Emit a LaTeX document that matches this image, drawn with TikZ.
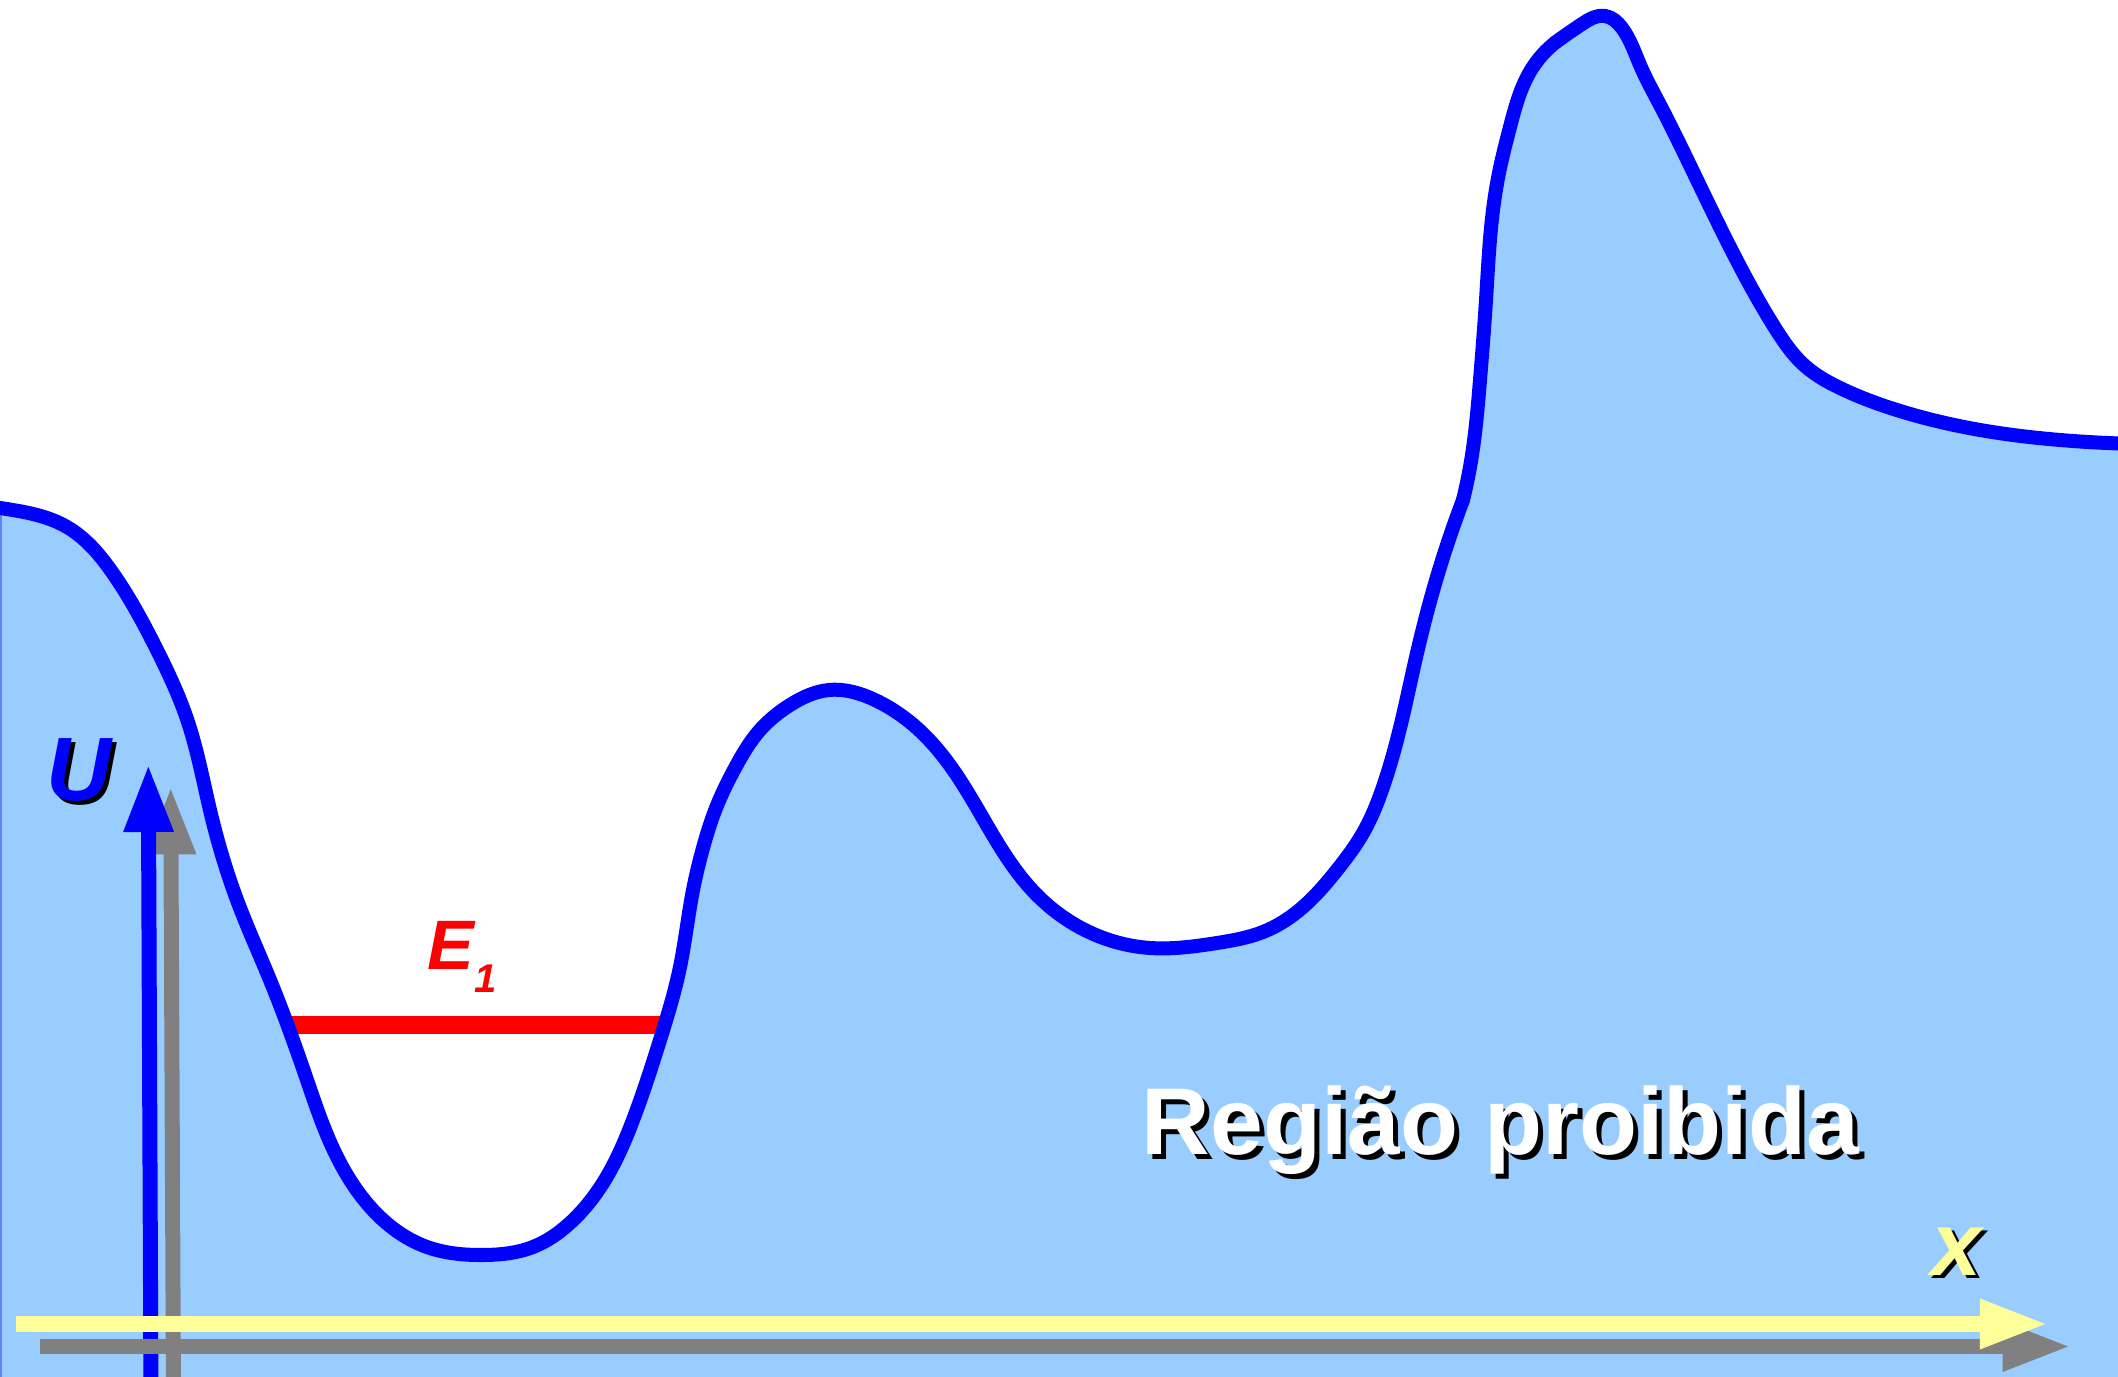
\documentclass[tikz,border=0pt]{standalone}
\usepackage{fontspec}
\setmainfont{Liberation Sans}
\usetikzlibrary{arrows.meta,hobby}
\definecolor{regionblue}{HTML}{99CCFF}
\definecolor{curveblue}{HTML}{0000FF}
\definecolor{edgeblue}{HTML}{6680FF}
\definecolor{shadowgray}{HTML}{808080}
\definecolor{axisyellow}{HTML}{FFFF99}
\definecolor{levelred}{HTML}{FF0000}
\begin{document}
\begin{tikzpicture}[x=0.01cm, y=-0.01cm,
  curve/.style={draw=curveblue, line width=0.14cm, line join=round, line cap=round},
  regionfill/.style={fill=regionblue, draw=regionblue, line width=0.6pt},
  axisarrow/.style={line width=0.15cm, -{Triangle[length=0.68cm,width=0.46cm]}},
  axislbl/.style={inner sep=0pt, anchor=base, font=\fontsize{25.6pt}{30pt}\selectfont\bfseries\itshape},
  biglbl/.style={inner sep=0pt, anchor=base west, font=\fontsize{27pt}{32pt}\selectfont\bfseries}]
\useasboundingbox (0,0) rectangle (2118,1377);
\clip (0,0) rectangle (2118,1377);
\coordinate (cstart) at (-60,499);
\coordinate (kneeA) at (1463,500);
\coordinate (kneeB) at (1556,42);
\coordinate (cend) at (2140,444);
\coordinate (floorL) at (-60,1400);
\coordinate (floorA) at (1463,1400);
\coordinate (floorB) at (1556,1400);
\coordinate (floorR) at (2140,1400);
% energy level (its ends are hidden by the curve)
\coordinate (eleft) at (285,1025);
\coordinate (eright) at (668,1025);
% forbidden region, in three pieces
\path[regionfill] (cstart)
 to[curve through={(0,508) .. (67,527) .. (112,572) .. (156,648) .. (188,722)
 .. (210,810) .. (237,900) .. (270,980) .. (307,1080) .. (325,1130) .. (350,1180)
 .. (383,1220) .. (427,1247) .. (483,1255) .. (533,1247) .. (570,1223) .. (603,1183)
 .. (633,1120) .. (660,1040) .. (680,967) .. (693,890) .. (703,848) .. (716,808)
 .. (735,768) .. (760,730) .. (790,705) .. (829,690) .. (875,700) .. (918,729)
 .. (956,774) .. (994,837) .. (1033,891) .. (1081,928) .. (1150,948) .. (1217,943)
 .. (1263,932) .. (1303,907) .. (1337,870) .. (1363,833) .. (1383,787) .. (1400,728)
 .. (1417,653) .. (1440,567)}] (kneeA) -- (floorA) -- (floorL) -- cycle;
\path[regionfill] (kneeA)
 to[curve through={(1472,455) .. (1480,380) .. (1486,300) .. (1493,210) .. (1500,168)
 .. (1510,127) .. (1531,70)}] (kneeB) -- (floorB) -- (floorA) -- cycle;
\path[regionfill] (kneeB)
 to[curve through={(1582,24) .. (1605,16) .. (1622,28) .. (1640,65) .. (1660,105)
 .. (1685,155) .. (1714,215) .. (1745,276) .. (1775,328) .. (1805,366) .. (1840,388)
 .. (1900,411) .. (1980,430) .. (2060,440)}] (cend) -- (floorR) -- (floorB) -- cycle;
\draw[edgeblue, line width=0.02cm] (0.5,508) -- (0.5,1400);
\draw[levelred, line width=0.18cm] (eleft) -- (eright);
% potential curve
\draw[curve] (cstart)
 to[curve through={(0,508) .. (67,527) .. (112,572) .. (156,648) .. (188,722)
 .. (210,810) .. (237,900) .. (270,980) .. (307,1080) .. (325,1130) .. (350,1180)
 .. (383,1220) .. (427,1247) .. (483,1255) .. (533,1247) .. (570,1223) .. (603,1183)
 .. (633,1120) .. (660,1040) .. (680,967) .. (693,890) .. (703,848) .. (716,808)
 .. (735,768) .. (760,730) .. (790,705) .. (829,690) .. (875,700) .. (918,729)
 .. (956,774) .. (994,837) .. (1033,891) .. (1081,928) .. (1150,948) .. (1217,943)
 .. (1263,932) .. (1303,907) .. (1337,870) .. (1363,833) .. (1383,787) .. (1400,728)
 .. (1417,653) .. (1440,567)}] (kneeA);
\draw[curve] (kneeA)
 to[curve through={(1472,455) .. (1480,380) .. (1486,300) .. (1493,210) .. (1500,168)
 .. (1510,127) .. (1531,70)}] (kneeB);
\draw[curve] (kneeB)
 to[curve through={(1582,24) .. (1605,16) .. (1622,28) .. (1640,65) .. (1660,105)
 .. (1685,155) .. (1714,215) .. (1745,276) .. (1775,328) .. (1805,366) .. (1840,388)
 .. (1900,411) .. (1980,430) .. (2060,440)}] (cend);
% U axis with shadow
\coordinate (ushadowfoot) at (173.5,1400);
\coordinate (ushadowtip) at (170.7,786.4);
\coordinate (ufoot) at (151,1400);
\coordinate (utip) at (148.3,764);
\draw[axisarrow, shadowgray] (ushadowfoot) -- (ushadowtip);
\draw[axisarrow, curveblue] (ufoot) -- (utip);
% x axis with shadow
\coordinate (xshadowfoot) at (40,1346.5);
\coordinate (xshadowtip) at (2070.7,1346.5);
\coordinate (xfoot) at (16,1324);
\coordinate (xtip) at (2048,1324);
\draw[axisarrow, shadowgray] (xshadowfoot) -- (xshadowtip);
\draw[axisarrow, axisyellow] (xfoot) -- (xtip);
% labels
\node[axislbl, text=black] (ushadow) at (83,805) {U};
\node[axislbl, text=curveblue] (ulabel) at (79,801) {U};
\node[axislbl, text=black] (xshadow) at (1961,1278) {x};
\node[axislbl, text=axisyellow] (xlabel) at (1957,1275) {x};
\node[inner sep=0pt, anchor=base west, text=levelred,
      font=\fontsize{19.9pt}{24pt}\selectfont\bfseries\itshape] (elabel) at (427,970)
      {E\raisebox{-6.5pt}{\fontsize{11.4pt}{13pt}\selectfont 1}};
\node[biglbl, text=black] (regiaoshadow) at (1146,1160) {Região proibida};
\node[biglbl, text=white] (regiao) at (1141,1155) {Região proibida};
\end{tikzpicture}
\end{document}
